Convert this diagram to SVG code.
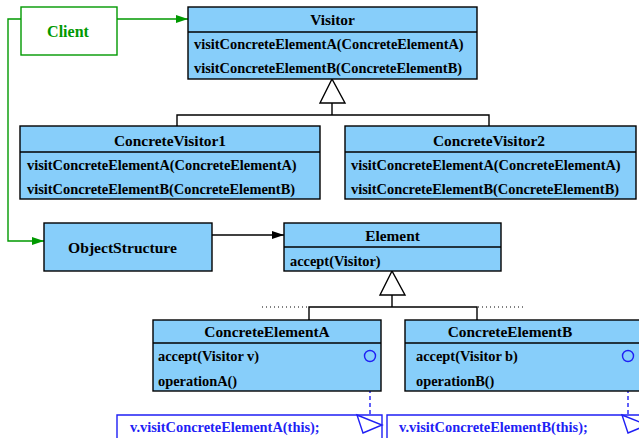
<svg xmlns="http://www.w3.org/2000/svg" width="639" height="438" viewBox="0 0 639 438">
  <style>
    .box { fill: #87cefa; stroke: #000; stroke-width: 1.4; }
    .sep { stroke: #000; stroke-width: 1.4; }
    .t { font-family: "Liberation Serif", "Times New Roman", serif; font-weight: bold; fill: #000; }
    .title { font-size: 15.4px; text-anchor: middle; }
    .m { font-size: 14.4px; }
    .line { fill: none; stroke: #000; stroke-width: 1.4; }
    .green { fill: none; stroke: #009900; stroke-width: 1.4; }
    .gen { fill: #fff; stroke: #000; stroke-width: 1.4; }
    .dots { fill: none; stroke: #000; stroke-width: 1; stroke-dasharray: 1 3; }
    .blue { fill: none; stroke: #1f1ff5; stroke-width: 1.4; }
    .bdash { fill: none; stroke: #1f1ff5; stroke-width: 1.4; stroke-dasharray: 4 3; }
    .bt { fill: #1f1ff5; }
  </style>
  <defs>
    <marker id="arrGreen" markerWidth="12" markerHeight="8" refX="12" refY="4" orient="auto" markerUnits="userSpaceOnUse">
      <path d="M0,0 L12,4 L0,8 Z" fill="#009900"/>
    </marker>
    <marker id="arrBlack" markerWidth="12" markerHeight="8" refX="12" refY="4" orient="auto" markerUnits="userSpaceOnUse">
      <path d="M0,0 L12,4 L0,8 Z" fill="#000"/>
    </marker>
  </defs>

  <!-- connectors -->
  <g id="connectors">
    <!-- client to visitor and object structure -->
    <path class="green" d="M117,19 H188" marker-end="url(#arrGreen)"/>
    <path class="green" d="M21,19 H8 V241 H44" marker-end="url(#arrGreen)"/>
    <!-- object structure to element -->
    <path class="line" d="M212,235 H284" marker-end="url(#arrBlack)"/>
    <!-- visitor inheritance -->
    <path class="line" d="M332,103 V115 M177,126 V115 H489 V126"/>
    <polygon class="gen" points="332,79 320,103 345,103"/>
    <!-- element inheritance -->
    <path class="line" d="M392,295 V307 M309,320 V307 H477 V320"/>
    <polygon class="gen" points="392,271 380,295 405,295"/>
    <path class="dots" d="M262,307 H308 M478,307 H524"/>
    <!-- implementation notes -->
    <path class="bdash" d="M370,361 V415"/>
    <path class="bdash" d="M628,361 V415"/>
  </g>

  <g id="client">
    <rect x="21" y="7" width="96" height="48" fill="#fff" stroke="#009900" stroke-width="1.4"/>
    <text class="t" x="68" y="37" font-size="16" text-anchor="middle" style="fill:#009900">Client</text>
  </g>

  <g id="visitor">
    <rect class="box" x="188" y="7" width="289" height="72"/>
    <line class="sep" x1="188" y1="32" x2="477" y2="32"/>
    <text class="t title" x="332.5" y="25">Visitor</text>
    <text class="t m" x="194" y="49">visitConcreteElementA(ConcreteElementA)</text>
    <text class="t m" x="194" y="73">visitConcreteElementB(ConcreteElementB)</text>
  </g>

  <g id="concreteVisitor1">
    <rect class="box" x="20" y="126" width="300" height="73"/>
    <line class="sep" x1="20" y1="152" x2="320" y2="152"/>
    <text class="t title" x="170" y="146">ConcreteVisitor1</text>
    <text class="t m" x="27" y="170">visitConcreteElementA(ConcreteElementA)</text>
    <text class="t m" x="27" y="194">visitConcreteElementB(ConcreteElementB)</text>
  </g>

  <g id="concreteVisitor2">
    <rect class="box" x="345" y="126" width="291" height="73"/>
    <line class="sep" x1="345" y1="152" x2="636" y2="152"/>
    <text class="t title" x="489" y="146">ConcreteVisitor2</text>
    <text class="t m" x="351" y="170">visitConcreteElementA(ConcreteElementA)</text>
    <text class="t m" x="351" y="194">visitConcreteElementB(ConcreteElementB)</text>
  </g>

  <g id="objectStructure">
    <rect class="box" x="44" y="223" width="168" height="48"/>
    <text class="t" x="122.5" y="253" font-size="15.6" text-anchor="middle">ObjectStructure</text>
  </g>

  <g id="element">
    <rect class="box" x="284" y="223" width="217" height="48"/>
    <line class="sep" x1="284" y1="247" x2="501" y2="247"/>
    <text class="t title" x="392.5" y="241">Element</text>
    <text class="t m" x="290" y="266">accept(Visitor)</text>
  </g>

  <g id="concreteElementA">
    <rect class="box" x="153" y="320" width="228" height="71"/>
    <line class="sep" x1="153" y1="343" x2="381" y2="343"/>
    <text class="t title" x="267" y="337">ConcreteElementA</text>
    <text class="t m" x="158" y="361">accept(Visitor v)</text>
    <text class="t m" x="158" y="386">operationA()</text>
    <circle cx="370" cy="356" r="5.5" fill="none" stroke="#1f1ff5" stroke-width="1.4"/>
  </g>

  <g id="concreteElementB">
    <rect class="box" x="405" y="320" width="236" height="71"/>
    <line class="sep" x1="405" y1="343" x2="641" y2="343"/>
    <text class="t title" x="510" y="337">ConcreteElementB</text>
    <text class="t m" x="416" y="361">accept(Visitor b)</text>
    <text class="t m" x="416" y="386">operationB()</text>
    <circle cx="628" cy="356" r="5.5" fill="none" stroke="#1f1ff5" stroke-width="1.4"/>
  </g>

  <g id="noteA">
    <path class="blue" d="M117,440 V415 H382 V440"/>
    <polygon class="blue" points="357,415 382,425 363,433"/>
    <text class="t m bt" x="130" y="432">v.visitConcreteElementA(this);</text>
  </g>

  <g id="noteB">
    <path class="blue" d="M387,440 V415 H645"/>
    <polygon class="blue" points="622,415 647,425 628,433"/>
    <text class="t m bt" x="399" y="432">v.visitConcreteElementB(this);</text>
  </g>
</svg>
